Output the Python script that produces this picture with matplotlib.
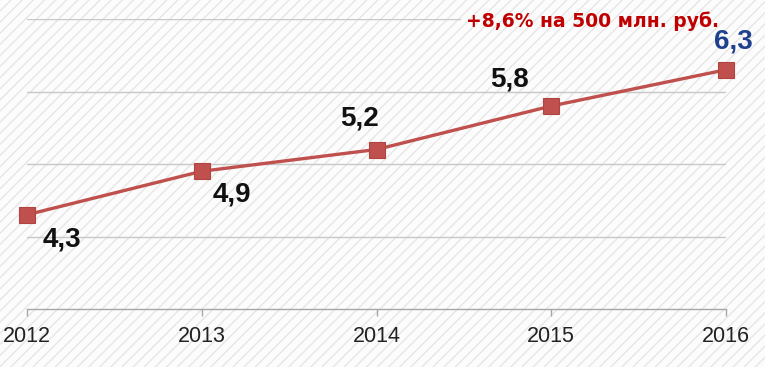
import matplotlib
matplotlib.use("Agg")
import matplotlib.pyplot as plt
from matplotlib.patches import Rectangle

years = [2012, 2013, 2014, 2015, 2016]
values = [4.3, 4.9, 5.2, 5.8, 6.3]
value_labels = ["4,3", "4,9", "5,2", "5,8", "6,3"]
label_offsets = [(25, -18), (22, -17), (-12, 22), (-30, 19), (5, 20)]
label_colors = ["#111111", "#111111", "#111111", "#111111", "#1F3F8F"]
grid_values = [4, 5, 6, 7]
note_text = "+8,6% на 500 млн. руб."

plt.rcParams['font.family'] = ['Liberation Sans', 'DejaVu Sans']
plt.rcParams['hatch.linewidth'] = 1.0

W, H = 765, 367
fig = plt.figure(figsize=(W / 100, H / 100), dpi=100)
fig.patch.set_facecolor("white")
bg = Rectangle((0, 0), 1, 1, transform=fig.transFigure, facecolor="#FCFCFC",
               edgecolor="#E6E6E6", hatch="///", linewidth=0, zorder=-10)
fig.add_artist(bg)

ax = fig.add_axes([27 / W, (H - 309) / H, 699 / W, 290 / H])
ax.set_facecolor("none")
ax.set_xlim(2012, 2016)
ax.set_ylim(3, 7)

for g in grid_values:
    xmax = 0.62 if g == grid_values[-1] else 1.0
    ax.axhline(g, xmin=0, xmax=xmax, color="#C8C8C8", linewidth=1.0, zorder=1)

ax.plot(years, values, color="#C0504D", linewidth=2.4, marker="s",
        markersize=11.5, markerfacecolor="#C0504D", markeredgecolor="#B04440",
        markeredgewidth=0.8, zorder=3, clip_on=False)

for x, v, lab, off, c in zip(years, values, value_labels, label_offsets, label_colors):
    ax.annotate(lab, (x, v), xytext=off, textcoords="offset points",
                ha="center", va="center", fontsize=20, fontweight="bold",
                color=c, zorder=4)

for s in ["left", "right", "top"]:
    ax.spines[s].set_visible(False)
ax.spines["bottom"].set_color("#A6A6A6")
ax.spines["bottom"].set_linewidth(1.0)
ax.set_yticks([])
ax.set_xticks(years)
ax.set_xticklabels([str(y) for y in years])
ax.tick_params(axis="x", direction="out", length=5, width=1.0, color="#A6A6A6",
               labelsize=15.5, labelcolor="#222222", pad=7)

fig.text(719 / W, 1 - 21 / H, note_text, ha="right", va="center",
         fontsize=13.5, fontweight="bold", color="#C00000",
         family=["DejaVu Sans"])

fig.savefig("out.png", dpi=100)
